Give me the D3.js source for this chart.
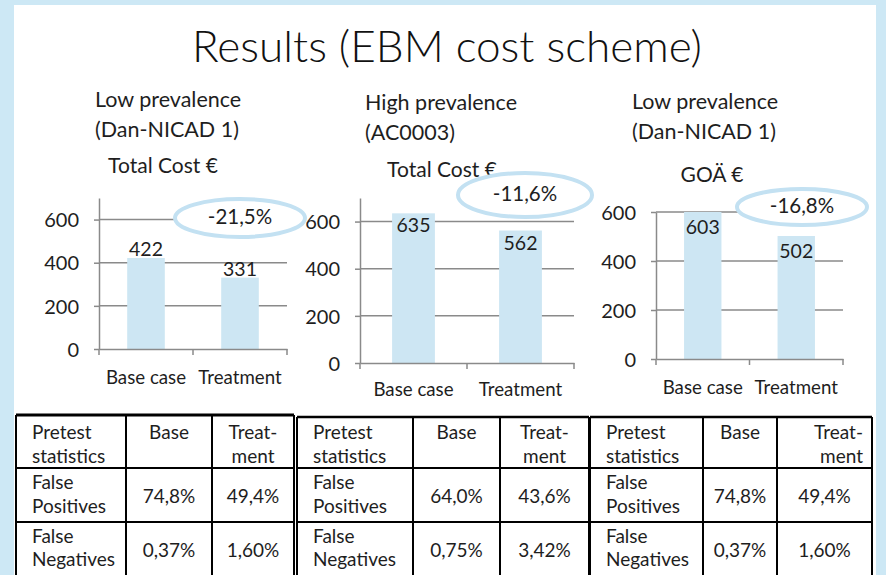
<!DOCTYPE html>
<html><head><meta charset="utf-8">
<script src="https://cdn.jsdelivr.net/npm/d3@7/dist/d3.min.js"></script>
<style>
html,body{margin:0;padding:0;background:#cde8f5;}
svg{display:block;font-family:Lato,"Noto Sans",sans-serif;}
</style></head>
<body>
<svg id="c" width="886" height="575"></svg>
<script>
// ---------- data ----------
const mainTitle = "Results (EBM cost scheme)";
const subtitleLine1 = ["Low prevalence", "High prevalence", "Low prevalence"];
const subtitleLine2 = ["(Dan-NICAD 1)", "(AC0003)", "(Dan-NICAD 1)"];
const chartTitles = ["Total Cost €", "Total Cost €", "GOÄ €"];
const categories = ["Base case", "Treatment"];
const baseValues = [422, 635, 603];
const treatmentValues = [331, 562, 502];
const changeLabels = ["-21,5%", "-11,6%", "-16,8%"];
const yTicks = [0, 200, 400, 600];
const yMax = [700, 700, 600];
const headerCol1 = ["Pretest", "statistics"];
const headerBase = "Base";
const headerTreat = ["Treat-", "ment"];
const rowLabels = [["False", "Positives"], ["False", "Negatives"]];
const fpBase = ["74,8%", "64,0%", "74,8%"];
const fpTreat = ["49,4%", "43,6%", "49,4%"];
const fnBase = ["0,37%", "0,75%", "0,37%"];
const fnTreat = ["1,60%", "3,42%", "1,60%"];

// ---------- layout ----------
const svg = d3.select("#c");
svg.append("rect").attr("x", 14).attr("y", 5).attr("width", 862).attr("height", 580).attr("fill", "#fff");

svg.append("text").attr("x", 447).attr("y", 62).attr("text-anchor", "middle")
  .attr("font-size", 44).attr("font-weight", 300).attr("fill", "#111")
  .attr("textLength", 510).attr("lengthAdjust", "spacingAndGlyphs").text(mainTitle);

const frames = [
  {x0: 99, x1: 287, y0: 349, yTop: 198, subX: 95, subY: 107, titleX: 163, titleY: 173, lblOff: -2, catY: 37,
   ell: {cx: 240, cy: 218, rx: 65, ry: 19}},
  {x0: 360, x1: 574, y0: 363, yTop: 198, subX: 365, subY: 110, titleX: 442, titleY: 177, lblOff: 19, catY: 35,
   ell: {cx: 525, cy: 195, rx: 67, ry: 22}},
  {x0: 656, x1: 843, y0: 359, yTop: 212, subX: 632, subY: 109, titleX: 712, titleY: 182, lblOff: 22, catY: 37,
   ell: {cx: 802, cy: 207, rx: 65, ry: 18}}
];
const txt = "#1e1e1e", grid = "#8a8a8a", barFill = "#cde6f3", ellStroke = "#c3e1f2";
const fs = 19.5;

frames.forEach((f, i) => {
  const g = svg.append("g");
  g.append("text").attr("x", f.subX).attr("y", f.subY).attr("font-size", 21.5).attr("fill", txt).text(subtitleLine1[i]);
  g.append("text").attr("x", f.subX).attr("y", f.subY + 30).attr("font-size", 21.5).attr("fill", txt).text(subtitleLine2[i]);
  g.append("text").attr("x", f.titleX).attr("y", f.titleY).attr("text-anchor", "middle").attr("font-size", 21).attr("fill", txt).text(chartTitles[i]);

  const y = d3.scaleLinear().domain([0, yMax[i]]).range([f.y0, f.yTop]);
  const x = d3.scaleBand().domain(categories).range([f.x0, f.x1]).paddingInner(0.6).paddingOuter(0.3);

  g.selectAll(".grid").data(yTicks.filter(t => t > 0)).join("line")
    .attr("x1", f.x0).attr("x2", f.x1).attr("y1", d => y(d)).attr("y2", d => y(d))
    .attr("stroke", grid).attr("stroke-width", 1.5);

  const vals = [baseValues[i], treatmentValues[i]];
  const bars = categories.map((c, k) => ({c, v: vals[k]}));
  g.selectAll(".bar").data(bars).join("rect")
    .attr("x", d => x(d.c)).attr("width", x.bandwidth())
    .attr("y", d => Math.max(y(d.v), f.yTop)).attr("height", d => f.y0 - Math.max(y(d.v), f.yTop))
    .attr("fill", barFill);

  const ya = g.append("g").attr("transform", `translate(${f.x0},0)`)
    .call(d3.axisLeft(y).tickValues(yTicks).tickSize(5).tickPadding(15).tickSizeOuter(0));
  ya.select(".domain").attr("stroke", grid).attr("stroke-width", 1.5);
  ya.selectAll(".tick line").attr("stroke", grid).attr("stroke-width", 1.5);
  ya.selectAll(".tick text").attr("font-size", 20).attr("font-family", "Lato").attr("fill", txt).attr("dy", "0.36em");

  const xa = g.append("g").attr("transform", `translate(0,${f.y0})`)
    .call(d3.axisBottom(x).tickSize(0).tickPadding(f.catY - 15).tickSizeOuter(0));
  xa.select(".domain").attr("stroke", grid).attr("stroke-width", 1.5);
  xa.selectAll(".tick text").attr("font-size", 18.7).attr("font-family", "Lato").attr("fill", txt);
  const mid = (x(categories[0]) + x.bandwidth() + x(categories[1])) / 2;
  g.selectAll(".xt").data([f.x0, mid, f.x1]).join("line")
    .attr("x1", d => d).attr("x2", d => d).attr("y1", f.y0).attr("y2", f.y0 + 6)
    .attr("stroke", grid).attr("stroke-width", 1.5);

  g.selectAll(".vl").data(bars).join("text")
    .attr("x", d => x(d.c) + x.bandwidth() / 2).attr("y", d => Math.max(y(d.v), f.yTop) + f.lblOff)
    .attr("text-anchor", "middle").attr("font-size", fs).attr("fill", txt).text(d => d.v);

  g.append("ellipse").attr("cx", f.ell.cx).attr("cy", f.ell.cy).attr("rx", f.ell.rx).attr("ry", f.ell.ry)
    .attr("fill", "#fff").attr("stroke", ellStroke).attr("stroke-width", 4);
  g.append("text").attr("x", f.ell.cx).attr("y", f.ell.cy + 6).attr("text-anchor", "middle")
    .attr("font-size", 20.5).attr("fill", txt).text(changeLabels[i]);
});

// ---------- tables ----------
const tables = [
  {cols: [16, 126, 212, 294], top: 415, treatAlign: "middle"},
  {cols: [297, 413, 500, 589], top: 417, treatAlign: "middle"},
  {cols: [590, 703, 777, 872], top: 417, treatAlign: "end"}
];
const rowYs = [468, 522];
const tfs = 19;
tables.forEach((t, i) => {
  const g = svg.append("g");
  const c = t.cols;
  const addT = (x, yy, s, anchor) => g.append("text").attr("x", x).attr("y", yy).attr("text-anchor", anchor || "start")
    .attr("font-size", tfs).attr("fill", txt).text(s);
  const lx = c[0] + 16;
  addT(lx, 439, headerCol1[0]); addT(lx, 463, headerCol1[1]);
  addT((c[1] + c[2]) / 2, 439, headerBase, "middle");
  const tx = t.treatAlign === "middle" ? (c[2] + c[3]) / 2 : c[3] - 9;
  addT(tx, 439, headerTreat[0], t.treatAlign); addT(tx, 463, headerTreat[1], t.treatAlign);
  addT(lx, 489, rowLabels[0][0]); addT(lx, 513, rowLabels[0][1]);
  addT(lx, 543, rowLabels[1][0]); addT(lx, 566, rowLabels[1][1]);
  addT((c[1] + c[2]) / 2, 503, fpBase[i], "middle"); addT((c[2] + c[3]) / 2, 503, fpTreat[i], "middle");
  addT((c[1] + c[2]) / 2, 557, fnBase[i], "middle"); addT((c[2] + c[3]) / 2, 557, fnTreat[i], "middle");
  g.append("line").attr("x1", c[0]).attr("x2", c[3]).attr("y1", t.top).attr("y2", t.top).attr("stroke", "#000").attr("stroke-width", i === 0 ? 3 : 2.5);
  rowYs.forEach(yy => g.append("line").attr("x1", c[0]).attr("x2", c[3]).attr("y1", yy).attr("y2", yy).attr("stroke", "#000").attr("stroke-width", 1.8));
  c.forEach(xx => g.append("line").attr("x1", xx).attr("x2", xx).attr("y1", t.top).attr("y2", 580).attr("stroke", "#000").attr("stroke-width", 2));
});
</script>
</body></html>
